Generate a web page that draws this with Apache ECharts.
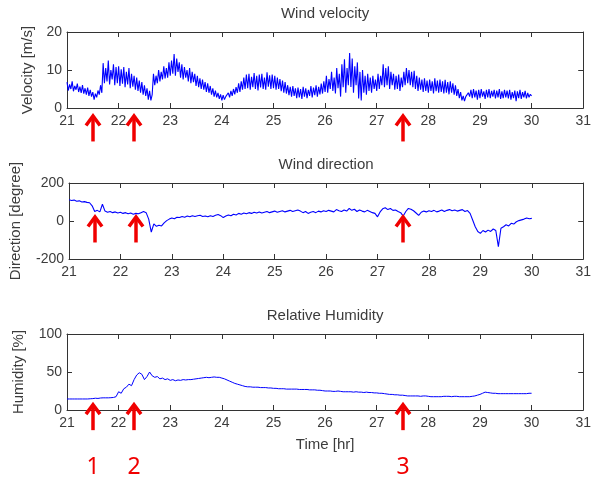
<!DOCTYPE html>
<html><head><meta charset="utf-8">
<script src="https://cdn.jsdelivr.net/npm/echarts@6/dist/echarts.min.js"></script>
<style>html,body{margin:0;padding:0;background:#fff}#c{width:594px;height:482px}</style>
</head><body><div id="c"></div>
<script>
// Sampling of the records: first hour and step (hr) for each record
const startHr = 21;
const velocityStep = 0.025;
const directionStep = 0.05;
const humidityStep = 0.05;

// Wind velocity [m/s], one value per step from 21.00 to 30.00 (20 values per half hour)
const velocity = [
  6.8,4.6,6.2,5.0,7.0,4.4,5.8,4.8,6.4,4.2,5.6,4.0,6.0,3.8,5.2,3.5,5.4,3.2,4.8,3.0,
  4.2,2.2,3.8,2.8,4.6,3.5,6.0,4.0,11.8,6.5,10.5,7.0,12.5,6.2,10.0,7.5,11.5,6.0,10.8,6.5,
  11.0,5.8,10.2,6.4,10.8,5.5,9.5,6.2,10.5,5.2,9.0,5.6,8.5,4.8,8.0,4.5,7.2,4.0,6.8,3.5,
  6.0,3.2,5.2,2.2,4.5,2.0,3.5,9.0,6.0,8.5,6.5,10.0,7.0,9.5,7.5,11.0,7.8,10.5,8.0,12.0,
  8.5,12.5,9.0,14.2,8.5,13.0,9.5,12.0,8.0,11.5,7.5,10.8,8.0,10.0,7.0,10.5,6.5,9.5,6.8,9.0,
  5.8,8.5,5.5,7.8,5.0,7.5,4.8,6.8,4.2,6.5,4.0,5.8,3.5,5.2,3.0,4.6,2.8,4.0,2.4,3.6,
  2.0,3.4,2.2,3.0,2.6,4.0,2.8,4.5,3.2,5.0,3.6,5.5,4.0,6.5,4.2,7.0,4.8,8.0,5.0,8.8,
  5.2,9.0,4.8,8.2,5.5,9.2,5.0,8.5,4.6,8.8,5.4,9.0,5.0,8.0,4.8,9.4,5.6,8.6,5.0,8.8,
  5.2,8.5,4.8,8.0,5.0,7.6,4.4,7.2,4.0,6.8,3.8,6.0,3.4,5.6,3.0,5.8,3.2,5.2,2.6,5.4,
  2.8,5.0,2.4,5.6,3.0,5.2,2.6,4.8,3.2,5.8,2.8,5.4,3.4,6.0,3.0,5.6,3.6,6.4,3.8,7.0,
  4.2,8.5,4.0,7.6,5.0,9.5,4.5,8.0,3.8,10.5,5.2,9.0,3.0,11.5,5.5,12.8,4.0,10.5,6.0,14.5,
  5.5,13.0,4.0,11.0,6.0,12.0,2.5,9.5,2.0,10.0,4.0,8.5,3.5,9.0,4.5,8.0,4.0,8.5,5.0,7.5,
  4.5,9.0,5.0,8.5,6.0,11.5,5.5,10.5,6.0,11.0,5.0,9.5,6.0,9.0,4.8,8.5,5.0,8.8,4.5,8.0,
  5.5,9.5,6.0,10.5,6.5,10.0,6.0,9.5,5.5,9.8,5.0,8.5,4.5,8.0,4.8,7.5,4.2,7.8,4.5,7.2,
  4.0,7.5,4.5,7.0,3.8,7.8,4.4,7.2,4.0,7.5,4.2,7.0,3.8,7.4,4.0,6.8,3.6,7.0,4.0,6.5,
  3.5,6.0,3.2,5.0,2.6,4.2,2.0,3.2,1.8,3.0,2.5,4.0,3.0,4.8,2.6,5.0,2.8,4.6,2.2,4.8,
  2.6,5.0,3.0,4.4,2.4,4.8,2.8,5.0,2.6,4.5,3.0,4.8,2.5,4.6,2.8,5.0,2.4,4.4,2.6,4.8,
  2.8,4.6,2.5,4.8,2.2,4.2,2.6,4.6,1.8,4.4,2.6,4.8,2.4,4.2,2.8,4.5,2.5,4.0,2.8,3.6,
  3.2
];

// Wind direction [degree]
const direction = [
  112,108,110,104,106,100,102,98,96,80,
  50,56,48,88,52,46,50,44,48,42,
  46,40,44,38,42,36,40,38,44,50,
  44,10,-58,-15,-28,-22,-26,-10,2,10,
  16,12,20,18,24,20,26,22,28,24,
  28,30,24,26,22,28,24,30,34,28,
  18,26,32,28,36,32,40,36,42,38,
  44,40,46,42,48,42,46,50,44,48,
  52,46,50,54,48,52,56,50,54,58,
  52,44,50,40,46,50,44,52,48,54,
  50,56,52,48,60,54,50,58,52,66,
  56,62,50,58,52,48,56,50,44,40,
  22,48,64,70,60,66,56,58,50,44,
  26,50,66,62,54,42,30,46,52,48,
  54,50,56,48,52,58,50,56,60,54,
  58,52,56,60,50,55,40,5,-30,-55,
  -65,-50,-58,-48,-55,-42,-50,-135,-38,-30,
  -20,-26,-12,-16,-4,2,6,10,16,12,
  14
];

// Relative humidity [%]
const humidity = [
  14.5,14.5,14.5,14.5,14.5,14.5,14.5,14.5,14.5,14.8,
  15.0,15.5,15.2,15.8,16.0,16.0,16.0,16.2,16.5,17.5,
  24,22,28,30,34,32,40,46,49,47,
  40,44,50,45,43,44,41,42,40,41,
  39,40,38.5,39.5,39,40,39.5,40,40,40.5,
  41,41.5,42,42.5,43,42.5,43,43.5,43,43,
  42,41,39.5,38,36.5,35,34,33,32,31,
  30.5,30.5,30,30,30,29.5,29.5,29.5,29,29,
  28.5,28.5,28,28,28,27.5,27.5,27.5,27.5,27.5,
  27,27,27,27,26.5,26.5,26.5,26,26,25.5,
  25,25,25,24.5,24.5,25,24.5,24,24,24,
  24,23.5,24,23.5,23.5,23,23.5,23,23,22.5,
  22.5,22,22,21.5,21,20.5,20.5,20,20,19.5,
  19.5,19,18.5,18.5,18.5,18.5,18.5,18,18.5,18.5,
  18,17.5,17.5,17.5,17.5,17.5,18,18,18,17.5,
  18,18,17.5,17.5,17.5,17.5,17.5,18,18.5,19.5,
  20.5,22,23.5,23,22.5,22,22,21.5,21.5,21.5,
  21.5,21.5,21.5,21.5,21.5,21.5,21.5,21.5,21.5,22,
  22
];

// Axis settings
const xRange = [21, 31, 1];
const yRanges = [[0, 20, 10], [-200, 200, 200], [0, 100, 50]];
const titles = ['Wind velocity', 'Wind direction', 'Relative Humidity'];
const yNames = ['Velocity [m/s]', 'Direction [degree]', 'Humidity [%]'];
const xName = 'Time [hr]';

// Annotations (red arrows)
const arrowHours = [21.5, 22.3, 27.5];
const arrowTips = [-1.7, 29, 9];   // value where each panel's arrow tip sits
const arrowNumbers = ['1', '2', '3'];

const seriesData = [velocity, direction, humidity];
const steps = [velocityStep, directionStep, humidityStep];
const pairs = seriesData.map((arr, g) => arr.map((v, i) => [+(startHr + i * steps[g]).toFixed(3), v]));

const gridTops = [32, 183, 334];
const yNameGaps = [32, 46, 41];
const textColor = '#3c3c3c';
const lineColor = '#333';
const font = 'Liberation Sans';

const grids = [], xAxes = [], yAxes = [], series = [];
for (let g = 0; g < 3; g++) {
  grids.push({ left: 67, top: gridTops[g], width: 520, height: 76, show: false });
  xAxes.push({
    type: 'value', gridIndex: g, position: 'bottom', min: xRange[0], max: xRange[1], interval: xRange[2],
    axisLine: { show: true, onZero: false, lineStyle: { color: lineColor, width: 1 } },
    axisTick: { show: true, inside: true, length: 5, lineStyle: { color: lineColor } },
    axisLabel: { color: textColor, fontSize: 14, fontFamily: font, margin: 6 },
    splitLine: { show: false },
    name: g === 2 ? xName : '', nameLocation: 'middle', nameGap: 27,
    nameTextStyle: { color: textColor, fontSize: 15, fontFamily: font }
  });
  xAxes.push({
    type: 'value', gridIndex: g, position: 'top', min: xRange[0], max: xRange[1], interval: xRange[2],
    axisLine: { show: true, onZero: false, lineStyle: { color: lineColor, width: 1 } },
    axisTick: { show: true, inside: true, length: 5, lineStyle: { color: lineColor } },
    axisLabel: { show: false }, splitLine: { show: false },
    name: titles[g], nameLocation: 'middle', nameGap: 11,
    nameTextStyle: { color: textColor, fontSize: 15, fontFamily: font }
  });
  const yr = yRanges[g];
  yAxes.push({
    type: 'value', gridIndex: g, position: 'left', min: yr[0], max: yr[1], interval: yr[2],
    axisLine: { show: true, onZero: false, lineStyle: { color: lineColor, width: 1 } },
    axisTick: { show: true, inside: true, length: 5, lineStyle: { color: lineColor } },
    axisLabel: { color: textColor, fontSize: 14, fontFamily: font, margin: 5 },
    splitLine: { show: false },
    name: yNames[g], nameLocation: 'middle', nameRotate: 90, nameGap: yNameGaps[g],
    nameTextStyle: { color: textColor, fontSize: 15, fontFamily: font }
  });
  yAxes.push({
    type: 'value', gridIndex: g, position: 'right', min: yr[0], max: yr[1], interval: yr[2],
    axisLine: { show: true, onZero: false, lineStyle: { color: lineColor, width: 1 } },
    axisTick: { show: true, inside: true, length: 5, lineStyle: { color: lineColor } },
    axisLabel: { show: false }, splitLine: { show: false }
  });
  series.push({
    type: 'line', xAxisIndex: g * 2, yAxisIndex: g * 2, data: pairs[g],
    showSymbol: false, symbol: 'none', animation: false,
    lineStyle: { color: '#0000ff', width: g === 2 ? 1 : 1.1 }
  });
  const withNumbers = g === 2;
  series.push({
    type: 'custom', xAxisIndex: g * 2, yAxisIndex: g * 2, clip: false, silent: true, z: 10, animation: false,
    data: arrowHours.map((h, k) => [h, arrowTips[g], k]),
    renderItem(params, api) {
      const p = api.coord([api.value(0), api.value(1)]);
      const x = Math.round(p[0]), y = p[1];
      const red = '#f00000';
      const children = [
        { type: 'line', shape: { x1: x, y1: y + 2, x2: x, y2: y + 27 }, style: { stroke: red, lineWidth: 3.5 } },
        { type: 'polyline', shape: { points: [[x - 7, y + 11], [x, y + 1.5], [x + 7, y + 11]] },
          style: { stroke: red, lineWidth: 3.5, fill: null, lineJoin: 'miter' } }
      ];
      if (withNumbers) {
        children.push({ type: 'text', style: { text: arrowNumbers[api.value(2)], x: x, y: y + 64,
          align: 'center', verticalAlign: 'middle', fill: red, fontSize: 23, fontFamily: 'Noto Sans' } });
      }
      return { type: 'group', children };
    }
  });
}

const chart = echarts.init(document.getElementById('c'), null, { renderer: 'canvas' });
chart.setOption({
  animation: false,
  backgroundColor: '#fff',
  grid: grids, xAxis: xAxes, yAxis: yAxes, series
});
</script></body></html>
